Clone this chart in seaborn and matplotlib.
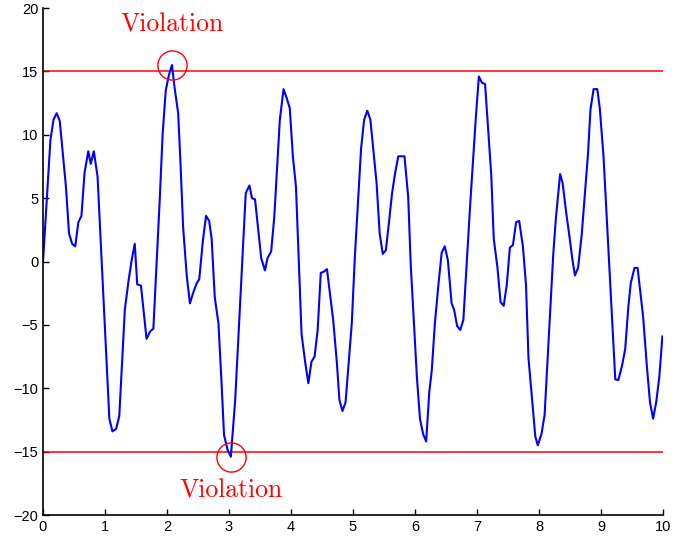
import numpy as np
import pandas as pd
import matplotlib
matplotlib.use("Agg")
import matplotlib.pyplot as plt
import seaborn as sns

# Signal samples (time, amplitude)
t = [0.00, 0.12, 0.17, 0.22, 0.27, 0.37, 0.42, 0.47, 0.52, 0.57, 0.62, 0.67, 0.73, 0.77,
     0.82, 0.88, 1.07, 1.12, 1.18, 1.23, 1.32, 1.38, 1.43, 1.48, 1.52, 1.58, 1.67, 1.73,
     1.78, 1.88, 1.93, 1.98, 2.03, 2.08, 2.12, 2.18, 2.22, 2.26, 2.32, 2.37, 2.42, 2.48,
     2.52, 2.58, 2.63, 2.68, 2.72, 2.77, 2.83, 2.88, 2.92, 2.98, 3.03, 3.10, 3.18, 3.27,
     3.33, 3.37, 3.42, 3.52, 3.58, 3.62, 3.68, 3.73, 3.78, 3.82, 3.88, 3.93, 3.98, 4.03,
     4.08, 4.17, 4.23, 4.28, 4.33, 4.38, 4.43, 4.48, 4.53, 4.58, 4.68, 4.74, 4.78, 4.83,
     4.88, 4.98, 5.03, 5.13, 5.18, 5.23, 5.28, 5.38, 5.43, 5.48, 5.53, 5.58, 5.63, 5.68,
     5.73, 5.79, 5.83, 5.89, 5.93, 6.03, 6.08, 6.13, 6.18, 6.23, 6.27, 6.32, 6.38, 6.43,
     6.48, 6.53, 6.59, 6.63, 6.68, 6.73, 6.78, 6.89, 6.98, 7.03, 7.08, 7.13, 7.23, 7.27,
     7.33, 7.38, 7.43, 7.48, 7.53, 7.58, 7.63, 7.68, 7.74, 7.79, 7.83, 7.94, 7.98, 8.04,
     8.09, 8.23, 8.27, 8.34, 8.38, 8.44, 8.49, 8.54, 8.58, 8.63, 8.69, 8.79, 8.83, 8.88,
     8.94, 8.98, 9.04, 9.23, 9.28, 9.34, 9.39, 9.44, 9.48, 9.54, 9.59, 9.68, 9.74, 9.79,
     9.84, 9.89, 9.94, 9.99]
signal = [0.0, 9.6, 11.2, 11.7, 11.1, 5.9, 2.2, 1.4, 1.2, 3.1, 3.6, 7.0, 8.7, 7.7,
          8.7, 6.7, -12.4, -13.4, -13.2, -12.2, -3.8, -1.5, 0.1, 1.4, -1.8, -1.9, -6.1, -5.5,
          -5.3, 4.6, 10.1, 13.5, 14.7, 15.5, 13.8, 11.7, 7.5, 2.7, -1.2, -3.3, -2.5, -1.7,
          -1.4, 1.7, 3.6, 3.2, 1.8, -2.8, -4.9, -9.6, -13.7, -14.9, -15.4, -10.9, -3.3, 5.4,
          6.0, 5.0, 4.9, 0.25, -0.7, 0.25, 0.8, 3.5, 7.7, 11.2, 13.6, 12.9, 12.1, 8.3,
          5.9, -5.7, -8.0, -9.6, -7.9, -7.5, -5.4, -0.9, -0.8, -0.6, -4.6, -8.0, -10.9, -11.8,
          -11.1, -4.9, 0.4, 8.9, 11.2, 11.9, 11.2, 6.2, 2.2, 0.6, 0.9, 3.1, 5.4, 7.0,
          8.3, 8.3, 8.3, 5.1, -0.15, -9.1, -12.4, -13.6, -14.2, -10.3, -8.6, -4.9, -1.7, 0.7,
          1.2, 0.1, -3.3, -3.8, -5.1, -5.4, -4.6, 4.5, 11.3, 14.6, 14.1, 14.0, 6.8, 1.8,
          -0.5, -3.2, -3.5, -1.85, 1.1, 1.3, 3.1, 3.2, 1.2, -1.85, -7.6, -13.8, -14.5, -13.6,
          -12.1, 0.6, 3.3, 6.9, 6.2, 3.8, 2.0, 0.1, -1.1, -0.5, 2.2, 8.5, 12.0, 13.6,
          13.6, 12.1, 8.3, -9.3, -9.35, -8.2, -6.9, -3.6, -1.7, -0.5, -0.5, -4.4, -8.3, -11.1,
          -12.4, -11.1, -9.1, -5.9]

limits = [15, -15]
xticks = list(range(0, 11))
yticks = list(range(-20, 21, 5))
label = "Violation"

df = pd.DataFrame({"t": t, "signal": signal})

sns.set_style("ticks")
plt.rcParams["font.family"] = ["Liberation Sans", "DejaVu Sans"]
plt.rcParams["xtick.direction"] = "in"
plt.rcParams["ytick.direction"] = "in"

fig = plt.figure(figsize=(6.76, 5.41), dpi=100)
ax = fig.add_axes([0.0636, 0.048, 0.9172, 0.9372])

sns.lineplot(data=df, x="t", y="signal", color=(0, 0, 1), linewidth=1.5, ax=ax,
             sort=False)
for lim in limits:
    ax.plot([0, 10], [lim, lim], color=(1, 0, 0), linewidth=1.1, zorder=1)

# Mark the samples that cross the limits
i_hi = int(np.argmax(signal))
i_lo = int(np.argmin(signal))
for i in (i_hi, i_lo):
    ax.plot(t[i], signal[i], marker="o", markersize=21, markerfacecolor="none",
            markeredgecolor=(1, 0, 0), markeredgewidth=1.0, linestyle="none")

ax.text(t[i_hi], 18.65, label, color=(1, 0, 0), fontsize=18.5, family="cmr10",
        ha="center", va="center")
ax.text(t[i_lo], -18.1, label, color=(1, 0, 0), fontsize=18.5, family="cmr10",
        ha="center", va="center")

ax.set_xlim(0, 10)
ax.set_ylim(-20, 20)
ax.set_xticks(xticks)
ax.set_yticks(yticks)
ax.set_xlabel("")
ax.set_ylabel("")
ax.tick_params(axis="both", labelsize=10.5, length=4, width=1.0, colors="black")
for side in ("left", "bottom"):
    ax.spines[side].set_linewidth(1.2)
    ax.spines[side].set_color("black")
sns.despine(ax=ax)

fig.savefig("out.png", dpi=100)
